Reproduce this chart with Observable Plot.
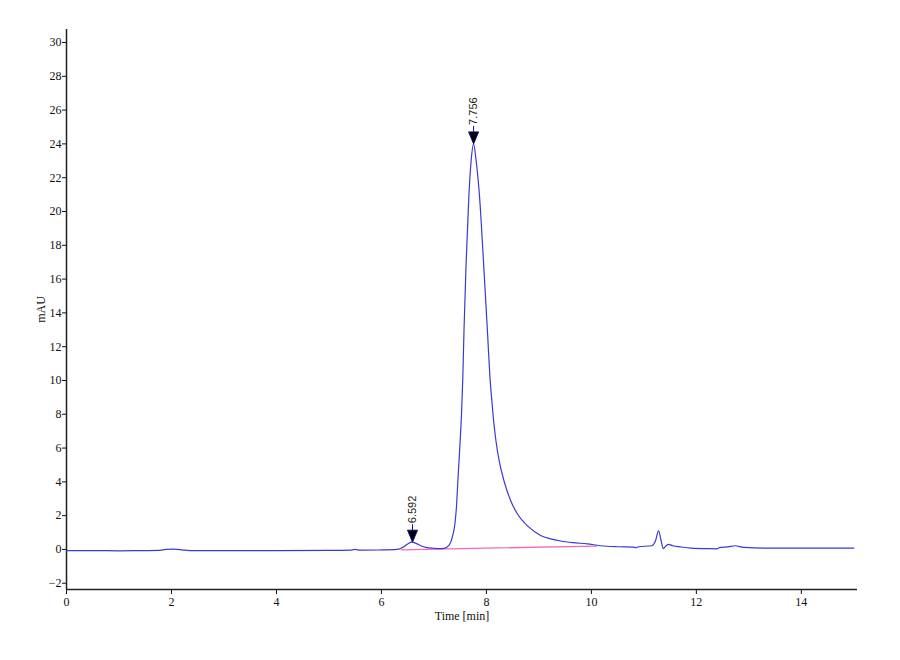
<!DOCTYPE html>
<html>
<head>
<meta charset="utf-8">
<script src="https://cdn.jsdelivr.net/npm/d3@7"></script>
<script src="https://cdn.jsdelivr.net/npm/@observablehq/plot@0.6"></script>
<style>
  html, body { margin: 0; padding: 0; background: #ffffff; }
</style>
</head>
<body>
<div id="chart"></div>
<script>
// Chromatogram trace (time in min, signal in mAU)
const timeMin = [
  0.00, 0.50, 1.00, 1.50, 1.75, 1.90, 2.05, 2.20, 2.35, 3.00, 4.00, 5.00, 5.40, 5.50, 5.60, 6.00,
  6.30, 6.42, 6.50, 6.58, 6.66, 6.75, 6.85, 7.00, 7.10, 7.19, 7.286, 7.350, 7.400, 7.429, 7.457, 7.493,
  7.526, 7.549, 7.573, 7.613, 7.665, 7.709, 7.756, 7.804, 7.870, 7.947, 8.019, 8.072, 8.103, 8.137,
  8.181, 8.242, 8.333, 8.461, 8.589, 8.810, 9.032, 9.223, 9.413, 9.65, 9.922, 10.17, 10.50, 10.80,
  10.85, 10.90, 11.15, 11.22, 11.28, 11.33, 11.37, 11.42, 11.47, 11.55, 11.70, 11.90, 12.20, 12.39,
  12.46, 12.60, 12.74, 12.90, 13.35, 14.00, 15.00
];
const signalMAU = [
  -0.07, -0.07, -0.08, -0.07, -0.06, 0.00, 0.02, -0.02, -0.07, -0.07, -0.07, -0.06, -0.04, 0.00, -0.04, -0.03,
  0.00, 0.15, 0.32, 0.43, 0.36, 0.22, 0.12, 0.07, 0.05, 0.06, 0.24, 0.73, 1.52, 2.50, 4.08, 6.05,
  8.03, 10.00, 12.96, 16.90, 20.85, 23.00, 24.00, 23.00, 20.85, 16.90, 12.96, 10.00, 8.82, 7.63,
  6.45, 5.27, 4.08, 2.90, 2.11, 1.32, 0.83, 0.63, 0.50, 0.40, 0.33, 0.22, 0.16, 0.14,
  0.10, 0.16, 0.22, 0.50, 1.10, 0.50, 0.05, 0.20, 0.30, 0.22, 0.15, 0.08, 0.05, 0.04,
  0.12, 0.15, 0.22, 0.12, 0.08, 0.08, 0.08
];

// Integration baseline
const baselineTime = [6.38, 10.10];
const baselineMAU = [-0.02, 0.20];

// Peak annotations
const peakTimes = [6.592, 7.756];
const peakHeights = [0.43, 24.0];
const peakLabels = ["6.592", "7.756"];

// Axis ticks and domains
const xTicks = [0, 2, 4, 6, 8, 10, 12, 14];
const yTicks = [-2, 0, 2, 4, 6, 8, 10, 12, 14, 16, 18, 20, 22, 24, 26, 28, 30];
const xDomain = [0, 15.07];
const yDomain = [-2.37, 30.77];

const trace = timeMin.map((t, i) => ({t, v: signalMAU[i]}));
const baseline = baselineTime.map((t, i) => ({t, v: baselineMAU[i]}));
const peaks = peakTimes.map((t, i) => ({t, v: peakHeights[i], label: peakLabels[i]}));

const downArrow = {
  draw(ctx) {
    ctx.moveTo(0, 0);
    ctx.lineTo(-5, -12);
    ctx.lineTo(5, -12);
    ctx.closePath();
    ctx.moveTo(0, -12);
    ctx.lineTo(0, -18);
  }
};

const chart = Plot.plot({
  width: 900,
  height: 660,
  marginLeft: 66,
  marginRight: 43,
  marginTop: 29,
  marginBottom: 71,
  style: {fontFamily: "'Liberation Serif', serif", fontSize: "12px", background: "#ffffff", color: "#111"},
  x: {domain: xDomain},
  y: {domain: yDomain},
  marks: [
    Plot.axisY({ticks: yTicks, tickSize: 4, tickPadding: 1, label: "mAU", labelAnchor: "center", labelArrow: "none", labelOffset: 30, fontSize: 12}),
    Plot.axisX({ticks: xTicks, tickSize: 5, tickPadding: 3, label: "Time [min]", labelAnchor: "center", labelArrow: "none", labelOffset: 30, fontSize: 12}),
    Plot.ruleX([xDomain[0]], {stroke: "#222", strokeWidth: 1.5}),
    Plot.ruleY([yDomain[0]], {stroke: "#222", strokeWidth: 1.5}),
    Plot.line(baseline, {x: "t", y: "v", stroke: "#f06ac0", strokeWidth: 1.3}),
    Plot.line(trace, {x: "t", y: "v", stroke: "#3a3ad2", strokeWidth: 1.2, curve: "monotone-x"}),
    Plot.dot(peaks, {x: "t", y: "v", symbol: downArrow, fill: "#000", stroke: "#10108a", strokeWidth: 1}),
    Plot.text(peaks, {x: "t", y: "v", text: "label", rotate: -90, textAnchor: "start", dy: -19, fontFamily: "'Liberation Sans', sans-serif", fontSize: 11, fill: "#222"})
  ]
});
document.getElementById("chart").appendChild(chart);
</script>
</body>
</html>
